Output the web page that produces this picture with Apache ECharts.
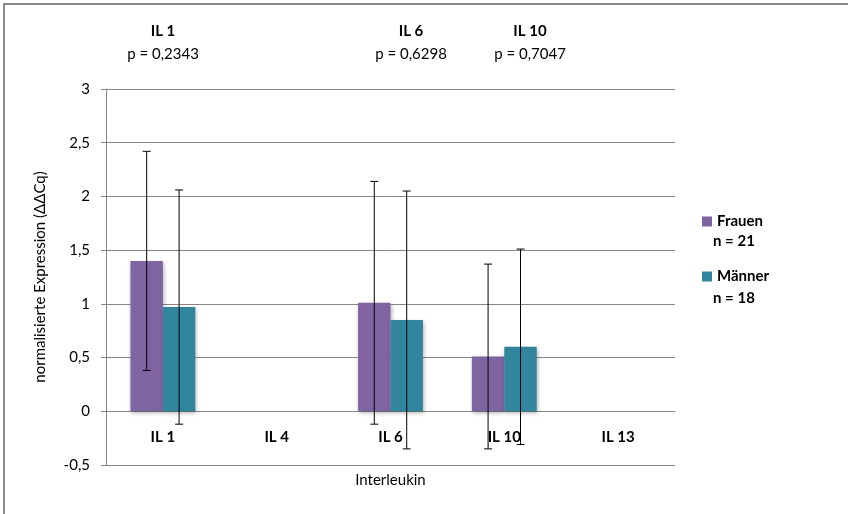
<!DOCTYPE html>
<html>
<head>
<meta charset="utf-8">
<script src="https://cdn.jsdelivr.net/npm/echarts@6/dist/echarts.min.js"></script>
<style>
  html, body { margin: 0; padding: 0; background: #fff; }
  #chart { width: 848px; height: 514px; }
</style>
</head>
<body>
<div id="chart"></div>
<script>
  // Interleukine auf der x-Achse
  const categories = ['IL 1', 'IL 4', 'IL 6', 'IL 10', 'IL 13']
  const seriesNames = ['Frauen', 'Männer']
  const groupSizes = [21, 18]
  // Mittelwerte (normalisierte Expression)
  const frauenValues = [1.40, null, 1.01, 0.51, null]
  const maennerValues = [0.97, null, 0.85, 0.60, null]
  // Standardabweichung (Fehlerbalken)
  const frauenErr = [1.02, null, 1.13, 0.86, null]
  const maennerErr = [1.09, null, 1.20, 0.91, null]
  // p-Werte oben
  const pNames = ['IL 1', 'IL 6', 'IL 10']
  const pValues = ['0,2343', '0,6298', '0,7047']

  const yMin = -0.5, yMax = 3
  const colors = ['#8064a2', '#31859c']
  const font = 'Lato, "Open Sans", sans-serif'

  const grid = {left: 106, right: 173, top: 89, bottom: 49}
  const plotHeight = 514 - grid.top - grid.bottom
  // x-Achse liegt bei 0 (wie in Excel)
  const zeroOffset = plotHeight * (0 - yMin) / (yMax - yMin)

  const chart = echarts.init(document.getElementById('chart'))

  function errorData(values, err) {
    let out = []
    values.forEach((v, i) => {
      if (v != null && err[i] != null) {
        out.push([i, v - err[i], v + err[i]])
      }
    })
    return out
  }

  function errorSeries(values, err, side) {
    return {
      type: 'custom',
      name: 'err' + side,
      z: 5,
      silent: true,
      renderItem: function (params, api) {
        const band = api.size([1, 0])[0]
        const offset = side * band * 0.1425
        const low = api.coord([api.value(0), api.value(1)])
        const high = api.coord([api.value(0), api.value(2)])
        const x = low[0] + offset
        const cap = 4
        const style = {stroke: '#000', lineWidth: 1}
        return {
          type: 'group',
          children: [
            {type: 'line', shape: {x1: x, y1: high[1], x2: x, y2: low[1]}, style: style},
            {type: 'line', shape: {x1: x - cap, y1: high[1], x2: x + cap, y2: high[1]}, style: style},
            {type: 'line', shape: {x1: x - cap, y1: low[1], x2: x + cap, y2: low[1]}, style: style}
          ]
        }
      },
      data: errorData(values, err)
    }
  }

  // Texte oben (IL / p-Wert)
  const pX = [163, 411, 530]
  let graphics = [{
    type: 'rect',
    shape: {x: 4, y: 4, width: 900, height: 600},
    style: {fill: 'none', stroke: '#8a8a8a', lineWidth: 2},
    silent: true
  }]
  pNames.forEach((n, i) => {
    graphics.push({
      type: 'text', x: pX[i], y: 31,
      style: {text: n, font: 'bold 15px ' + font, fill: '#000', align: 'center', verticalAlign: 'middle'}
    })
    graphics.push({
      type: 'text', x: pX[i], y: 54,
      style: {text: 'p = ' + pValues[i], font: '15px ' + font, fill: '#000', align: 'center', verticalAlign: 'middle'}
    })
  })
  groupSizes.forEach((n, i) => {
    graphics.push({
      type: 'text', x: 713, y: 241 + i * 57,
      style: {text: 'n = ' + n, font: 'bold 15px ' + font, fill: '#000', verticalAlign: 'middle'}
    })
  })

  const option = {
    animation: false,
    color: colors,
    textStyle: {fontFamily: font},
    grid: Object.assign({outerBoundsMode: 'none', containLabel: false}, grid),
    legend: {
      data: seriesNames,
      orient: 'vertical',
      left: 697,
      top: 209,
      itemWidth: 10,
      itemHeight: 10,
      itemGap: 40,
      icon: 'rect',
      textStyle: {fontSize: 15, fontWeight: 'bold', color: '#000', fontFamily: font}
    },
    xAxis: {
      type: 'category',
      data: categories,
      offset: -zeroOffset,
      name: 'Interleukin',
      nameLocation: 'middle',
      nameGap: 61,
      nameTextStyle: {fontSize: 15, color: '#000'},
      axisLine: {onZero: false, lineStyle: {color: '#868686'}},
      axisTick: {show: false},
      axisLabel: {fontSize: 15, fontWeight: 'bold', color: '#000', margin: 18}
    },
    yAxis: {
      type: 'value',
      min: yMin,
      max: yMax,
      interval: 0.5,
      name: 'normalisierte Expression (ΔΔCq)',
      nameLocation: 'middle',
      nameGap: 58,
      nameTextStyle: {fontSize: 15, color: '#000'},
      axisLine: {show: true, lineStyle: {color: '#868686'}},
      axisTick: {show: true, length: 5, lineStyle: {color: '#868686'}},
      axisLabel: {
        fontSize: 15, color: '#000', margin: 16,
        formatter: v => String(v).replace('.', ',')
      },
      splitLine: {lineStyle: {color: '#868686'}}
    },
    series: [
      {
        name: seriesNames[0], type: 'bar', data: frauenValues,
        barGap: 0, barCategoryGap: '43%',
        itemStyle: {color: colors[0], shadowBlur: 4, shadowColor: 'rgba(0,0,0,0.3)', shadowOffsetX: 1, shadowOffsetY: 2}
      },
      {
        name: seriesNames[1], type: 'bar', data: maennerValues,
        barGap: 0, barCategoryGap: '43%',
        itemStyle: {color: colors[1], shadowBlur: 4, shadowColor: 'rgba(0,0,0,0.3)', shadowOffsetX: 1, shadowOffsetY: 2}
      },
      errorSeries(frauenValues, frauenErr, -1),
      errorSeries(maennerValues, maennerErr, 1)
    ],
    graphic: graphics
  }
  chart.setOption(option)
</script>
</body>
</html>
